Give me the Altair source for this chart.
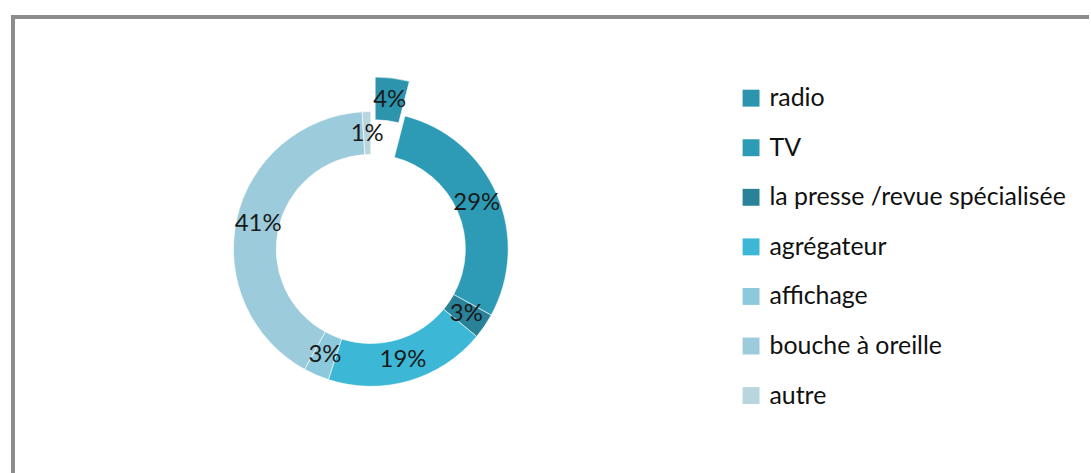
import altair as alt
import pandas as pd

categories = ["radio", "TV", "la presse /revue spécialisée", "agrégateur",
              "affichage", "bouche à oreille", "autre"]
values = [4, 29, 3, 19, 3, 41, 1]
colors = ["#2c95ad", "#2d9bb5", "#2a8298", "#3cb8d6", "#8cc9dc", "#9ccbdc", "#b9d5de"]

df = pd.DataFrame({"cat": categories, "val": values, "idx": list(range(len(values)))})

W, H = 719, 466
FONT = "Lato"

base = alt.Chart(df).transform_window(
    cum="sum(val)", sort=[{"field": "idx"}], frame=[None, 0]
).transform_calculate(
    t0="datum.cum - datum.val",
    mid="datum.cum - datum.val / 2",
    lbl="datum.val + '%'",
)

theta_scale = alt.Scale(domain=[0, 100], range=[0, 6.283185307])
color = alt.Color("cat:N", scale=alt.Scale(domain=categories, range=colors),
                  sort=categories, title=None,
                  legend=alt.Legend(orient="none", legendX=729, legendY=69,
                                    symbolType="square", symbolSize=289,
                                    symbolStrokeWidth=0, labelFont=FONT,
                                    labelFontSize=25, labelColor="#111111",
                                    labelLimit=400,
                                    rowPadding=23.8, labelOffset=6, padding=0))

arcs = base.transform_filter("datum.cat != 'radio'").mark_arc(
    innerRadius=95, outerRadius=138, stroke="#ffffff", strokeWidth=0.6
).encode(
    theta=alt.Theta("t0:Q", scale=theta_scale),
    theta2="cum:Q",
    color=color,
)

radio = base.transform_filter("datum.cat == 'radio'").mark_arc(
    innerRadius=95, outerRadius=138, stroke="#ffffff", strokeWidth=0.6
).encode(
    theta=alt.Theta("t0:Q", scale=theta_scale),
    theta2="cum:Q",
    color=color,
    x=alt.value(W / 2 + 4.4),
    y=alt.value(H / 2 - 34.7),
)

labels = base.transform_filter("datum.cat != 'radio'").mark_text(
    radius=116, font=FONT, fontSize=24, color="#1a1a1a"
).encode(theta=alt.Theta("mid:Q", scale=theta_scale), text="lbl:N")

radio_label = base.transform_filter("datum.cat == 'radio'").mark_text(
    radius=151, font=FONT, fontSize=24, color="#1a1a1a"
).encode(theta=alt.Theta("mid:Q", scale=theta_scale), text="lbl:N")

frame_top = alt.Chart(df).mark_rule(color="#8c8c8c", strokeWidth=3).encode(
    x=alt.value(-1.5), x2=alt.value(1081), y=alt.value(0)
)
frame_left = alt.Chart(df).mark_rule(color="#8c8c8c", strokeWidth=3).encode(
    x=alt.value(0), y=alt.value(-1.5), y2=alt.value(460)
)

chart = alt.layer(frame_top, frame_left, arcs, radio, labels, radio_label).properties(
    width=W, height=H,
    padding={"left": 10, "top": 13, "right": 0, "bottom": 0},
).configure(background="#ffffff").configure_view(stroke=None)

chart.save("out.html", embed_options={"renderer": "svg", "actions": False})
